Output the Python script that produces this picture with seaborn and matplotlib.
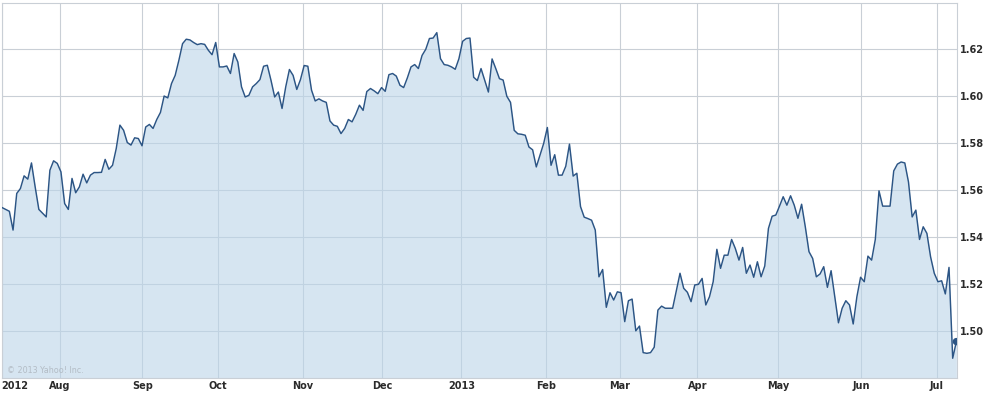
import numpy as np
import pandas as pd
import matplotlib
matplotlib.use("Agg")
import matplotlib.pyplot as plt
import seaborn as sns

# ---------------- data (one value per trading day) ----------------
start_date = "2012-07-10"
values = [
    # Jul - Aug 2012
    1.5526, 1.5518, 1.5510, 1.5430, 1.5586, 1.5607, 1.5661, 1.5647, 1.5716, 1.5614,
    1.5518, 1.5502, 1.5486, 1.5685, 1.5725, 1.5714, 1.5678, 1.5543, 1.5518, 1.5650,
    1.5589, 1.5614, 1.5668, 1.5631, 1.5664, 1.5675, 1.5675, 1.5676, 1.5731, 1.5689,
    1.5706, 1.5777, 1.5877, 1.5855,
    # Aug - Oct 2012
    1.5803, 1.5792, 1.5823, 1.5820, 1.5789, 1.5869, 1.5880, 1.5863, 1.5901, 1.5931,
    1.6001, 1.5993, 1.6054, 1.6089, 1.6153, 1.6224, 1.6243, 1.6240, 1.6229, 1.6220,
    1.6224, 1.6221, 1.6196, 1.6177, 1.6229, 1.6125, 1.6125, 1.6129, 1.6097, 1.6182,
    1.6146, 1.6040,
    # Oct - Nov 2012
    1.5997, 1.6004, 1.6040, 1.6054, 1.6071, 1.6128, 1.6132, 1.6068, 1.5997, 1.6018,
    1.5948, 1.6040, 1.6114, 1.6089, 1.6029, 1.6071, 1.6131, 1.6128, 1.6026, 1.5980,
    1.5989, 1.5980, 1.5974, 1.5895, 1.5877, 1.5872, 1.5841, 1.5863, 1.5901, 1.5891,
    1.5923, 1.5962, 1.5940, 1.6020,
    # Dec 2012 - Jan 2013
    1.6033, 1.6023, 1.6011, 1.6037, 1.6021, 1.6092, 1.6097, 1.6086, 1.6047, 1.6037,
    1.6078, 1.6125, 1.6135, 1.6118, 1.6174, 1.6200, 1.6246, 1.6248, 1.6271, 1.6160,
    1.6135, 1.6132, 1.6125, 1.6115, 1.6160, 1.6234, 1.6246, 1.6248, 1.6081, 1.6067,
    1.6118, 1.6068, 1.6018,
    # Jan - Feb 2013
    1.6159, 1.6118, 1.6075, 1.6069, 1.6000, 1.5974, 1.5855, 1.5840, 1.5838, 1.5834,
    1.5784, 1.5772, 1.5699, 1.5749, 1.5799, 1.5867, 1.5706, 1.5751, 1.5664, 1.5664,
    1.5702, 1.5796, 1.5660, 1.5672, 1.5530, 1.5485, 1.5479, 1.5472, 1.5430, 1.5231,
    1.5262,
    # Feb - Apr 2013
    1.5101, 1.5163, 1.5132, 1.5167, 1.5163, 1.5040, 1.5129, 1.5136, 1.5001, 1.5021,
    1.4908, 1.4905, 1.4908, 1.4931, 1.5089, 1.5106, 1.5097, 1.5097, 1.5097, 1.5172,
    1.5246, 1.5182, 1.5165, 1.5125, 1.5196, 1.5199, 1.5224, 1.5111, 1.5146, 1.5210,
    1.5348, 1.5267, 1.5323, 1.5323,
    # Apr - May 2013
    1.5390, 1.5352, 1.5302, 1.5356, 1.5246, 1.5281, 1.5229, 1.5295, 1.5231, 1.5277,
    1.5437, 1.5489, 1.5494, 1.5532, 1.5572, 1.5536, 1.5576, 1.5536, 1.5480, 1.5540,
    1.5444, 1.5338, 1.5309, 1.5231, 1.5243, 1.5274, 1.5186, 1.5257, 1.5146, 1.5035,
    1.5097, 1.5129,
    # May - Jul 2013
    1.5111, 1.5030, 1.5146, 1.5229, 1.5210, 1.5319, 1.5302, 1.5390, 1.5597, 1.5532,
    1.5532, 1.5532, 1.5682, 1.5711, 1.5720, 1.5716, 1.5635, 1.5486, 1.5515, 1.5390,
    1.5444, 1.5416, 1.5316, 1.5246, 1.5210, 1.5214, 1.5158, 1.5271, 1.4884, 1.4955,
]
month_starts = ["2012-08-01", "2012-09-01", "2012-10-01", "2012-11-01", "2012-12-01",
                "2013-01-01", "2013-02-01", "2013-03-01", "2013-04-01", "2013-05-01",
                "2013-06-01", "2013-07-01"]
month_labels = ["Aug", "Sep", "Oct", "Nov", "Dec", "2013", "Feb", "Mar", "Apr",
                "May", "Jun", "Jul"]
first_label = "2012"
y_ticks = [1.50, 1.52, 1.54, 1.56, 1.58, 1.60, 1.62]
y_range = (1.4802, 1.6396)
copyright_text = "\u00a9 2013 Yahoo! Inc."

# ---------------- frame ----------------
dates = pd.bdate_range(start_date, periods=len(values))
df = pd.DataFrame({"date": dates, "pos": np.arange(len(values)), "close": values})

sns.set_style("white")
plt.rcParams["font.family"] = ["DejaVu Sans"]

LINE = "#2c5585"
FILL = "#bbd5e9"
GRID = "#c9cfd6"
TXT = "#2b2b2b"

W, H = 995, 393
fig = plt.figure(figsize=(W / 100, H / 100), dpi=100)
ax = fig.add_axes([1.7 / W, 1 - 377.5 / H, 955.6 / W, 374.2 / H])

x_left, x_right = -0.08, len(values) - 1 + 0.25
ax.set_xlim(x_left, x_right)
ax.set_ylim(*y_range)

# area fill
ax.fill_between(df["pos"], df["close"], y_range[0], color=FILL, alpha=0.6,
                linewidth=0, zorder=2)
# line
sns.lineplot(data=df, x="pos", y="close", ax=ax, color=LINE, linewidth=1.05,
             zorder=3, legend=False)
# last-value dot
sns.scatterplot(x=df["pos"].iloc[-1:], y=df["close"].iloc[-1:], ax=ax, color=LINE,
                s=28, edgecolor="none", zorder=4, legend=False)


def grid_pos(d):
    d = pd.Timestamp(d)
    i = dates.searchsorted(d)
    return i - (0.3 if d.weekday() < 5 else 0.9)


xt = [x_left] + [grid_pos(d) for d in month_starts]
ax.set_xticks(xt)
ax.set_xticklabels([first_label] + month_labels)
ax.xaxis.get_majorticklabels()[0].set_horizontalalignment("left")

ax.set_yticks(y_ticks)
ax.set_yticklabels([f"{v:.2f}" for v in y_ticks])
ax.yaxis.tick_right()

ax.tick_params(axis="both", length=0, labelsize=7, labelcolor=TXT)
ax.tick_params(axis="x", pad=2.6)
ax.tick_params(axis="y", pad=2.2)
for lab in ax.get_xticklabels() + ax.get_yticklabels():
    lab.set_fontweight("bold")

ax.grid(True, color=GRID, linewidth=0.8, zorder=1)
ax.set_axisbelow(True)
for s in ax.spines.values():
    s.set_color(GRID)
    s.set_linewidth(0.8)
    s.set_visible(True)

ax.set_xlabel("")
ax.set_ylabel("")

ax.text(0.0055, 0.013, copyright_text, transform=ax.transAxes, fontsize=5.8,
        color="#b3bcc5", va="baseline", ha="left", zorder=5)

fig.savefig("out.png", dpi=100)
